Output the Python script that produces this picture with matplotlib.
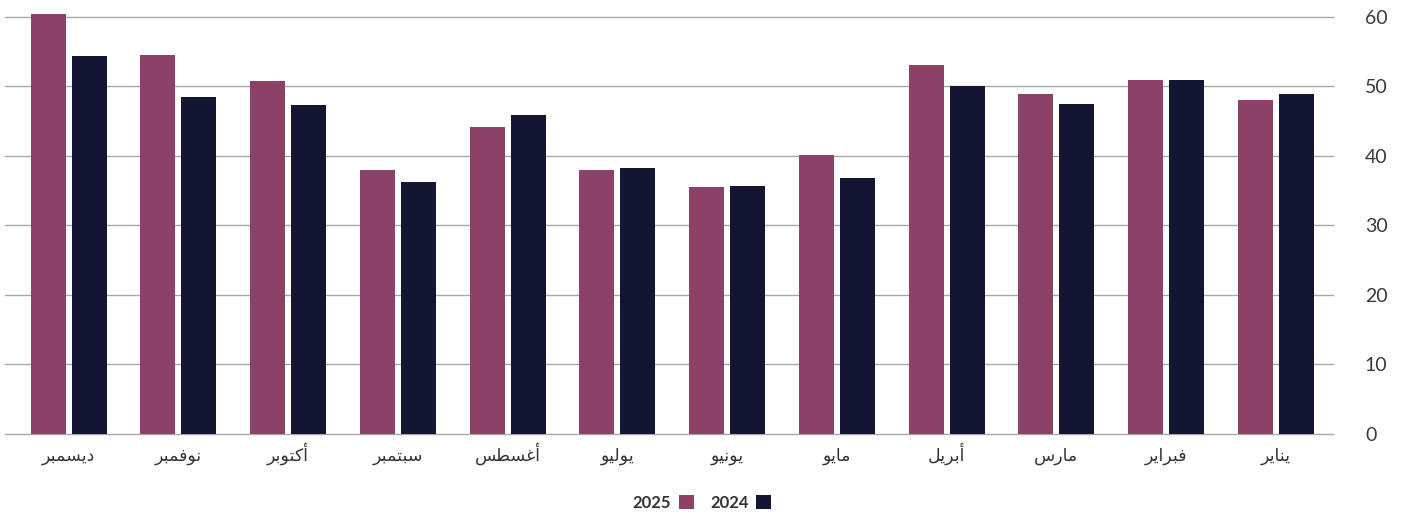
import matplotlib
matplotlib.use("Agg")
import matplotlib.pyplot as plt
import numpy as np

months = ["يناير", "فبراير", "مارس", "أبريل", "مايو", "يونيو",
          "يوليو", "أغسطس", "سبتمبر", "أكتوبر", "نوفمبر", "ديسمبر"]
values_2025 = [48.1, 50.9, 48.9, 53.1, 40.1, 35.5, 38.0, 44.2, 38.0, 50.8, 54.5, 60.4]
values_2024 = [48.9, 50.9, 47.5, 50.1, 36.8, 35.7, 38.3, 45.9, 36.3, 47.3, 48.5, 54.4]
series_labels = ["2025", "2024"]
yticks = [0, 10, 20, 30, 40, 50, 60]

COLOR_2025 = "#8B4168"
COLOR_2024 = "#141533"

# --- minimal Arabic shaping (presentation forms) since matplotlib has no CTL ---
FORMS = {
    "ا": ("\uFE8D", "\uFE8E", None, None),
    "أ": ("\uFE83", "\uFE84", None, None),
    "ب": ("\uFE8F", "\uFE90", "\uFE91", "\uFE92"),
    "ت": ("\uFE95", "\uFE96", "\uFE97", "\uFE98"),
    "د": ("\uFEA9", "\uFEAA", None, None),
    "ر": ("\uFEAD", "\uFEAE", None, None),
    "س": ("\uFEB1", "\uFEB2", "\uFEB3", "\uFEB4"),
    "ط": ("\uFEC1", "\uFEC2", "\uFEC3", "\uFEC4"),
    "غ": ("\uFECD", "\uFECE", "\uFECF", "\uFED0"),
    "ف": ("\uFED1", "\uFED2", "\uFED3", "\uFED4"),
    "ك": ("\uFED9", "\uFEDA", "\uFEDB", "\uFEDC"),
    "ل": ("\uFEDD", "\uFEDE", "\uFEDF", "\uFEE0"),
    "م": ("\uFEE1", "\uFEE2", "\uFEE3", "\uFEE4"),
    "ن": ("\uFEE5", "\uFEE6", "\uFEE7", "\uFEE8"),
    "و": ("\uFEED", "\uFEEE", None, None),
    "ي": ("\uFEF1", "\uFEF2", "\uFEF3", "\uFEF4"),
}


def shape(word):
    out = []
    n = len(word)
    for i, ch in enumerate(word):
        f = FORMS.get(ch)
        if f is None:
            out.append(ch)
            continue
        prev = word[i - 1] if i > 0 else None
        joins_prev = prev is not None and prev in FORMS and FORMS[prev][2] is not None
        nxt = word[i + 1] if i < n - 1 else None
        joins_next = nxt is not None and nxt in FORMS and f[2] is not None
        if joins_prev and joins_next:
            out.append(f[3])
        elif joins_prev:
            out.append(f[1])
        elif joins_next:
            out.append(f[2])
        else:
            out.append(f[0])
    return "".join(reversed(out))


plt.rcParams["font.family"] = ["Lato", "DejaVu Sans"]

fig = plt.figure(figsize=(14.04, 5.13), dpi=100)
ax = fig.add_axes([5 / 1404, 1 - 434 / 513, (1333 - 5) / 1404, 424 / 513])

x = np.arange(len(months))
offset = 0.187
width = 0.319
ax.bar(x + offset, values_2025, width, color=COLOR_2025, label=series_labels[0], zorder=3)
ax.bar(x - offset, values_2024, width, color=COLOR_2024, label=series_labels[1], zorder=3)

ax.set_xlim(11.58, -0.52)
ax.set_ylim(0, 61)
ax.set_yticks(yticks)
ax.set_yticklabels([str(v) for v in yticks])
ax.yaxis.tick_right()
ax.tick_params(axis="y", length=0, pad=23, labelcolor="#3a3a3a")
for lab in ax.get_yticklabels():
    lab.set_horizontalalignment("left")
    lab.set_fontsize(14)
ax.set_xticks(x)
ax.set_xticklabels([shape(m) for m in months], family=["DejaVu Sans"], fontsize=12.5, color="#333333")
ax.tick_params(axis="x", length=0, pad=19.5)
for lab in ax.get_xticklabels():
    lab.set_verticalalignment("baseline")
ax.grid(axis="y", color="#a8a8a8", linewidth=1, zorder=0)
for gl in ax.get_ygridlines():
    gl.set_clip_on(False)
for s in ax.spines.values():
    s.set_visible(False)

handles, labels = ax.get_legend_handles_labels()
leg = fig.legend(handles, labels, loc="center", bbox_to_anchor=(0.5, 1 - 503 / 513), ncol=2,
                 frameon=False, markerfirst=False, handlelength=0.9, handleheight=0.9,
                 columnspacing=1.0, handletextpad=0.45,
                 prop={"weight": "bold", "size": 12})
for t in leg.get_texts():
    t.set_color("#333333")

fig.savefig("out.png", dpi=100)
